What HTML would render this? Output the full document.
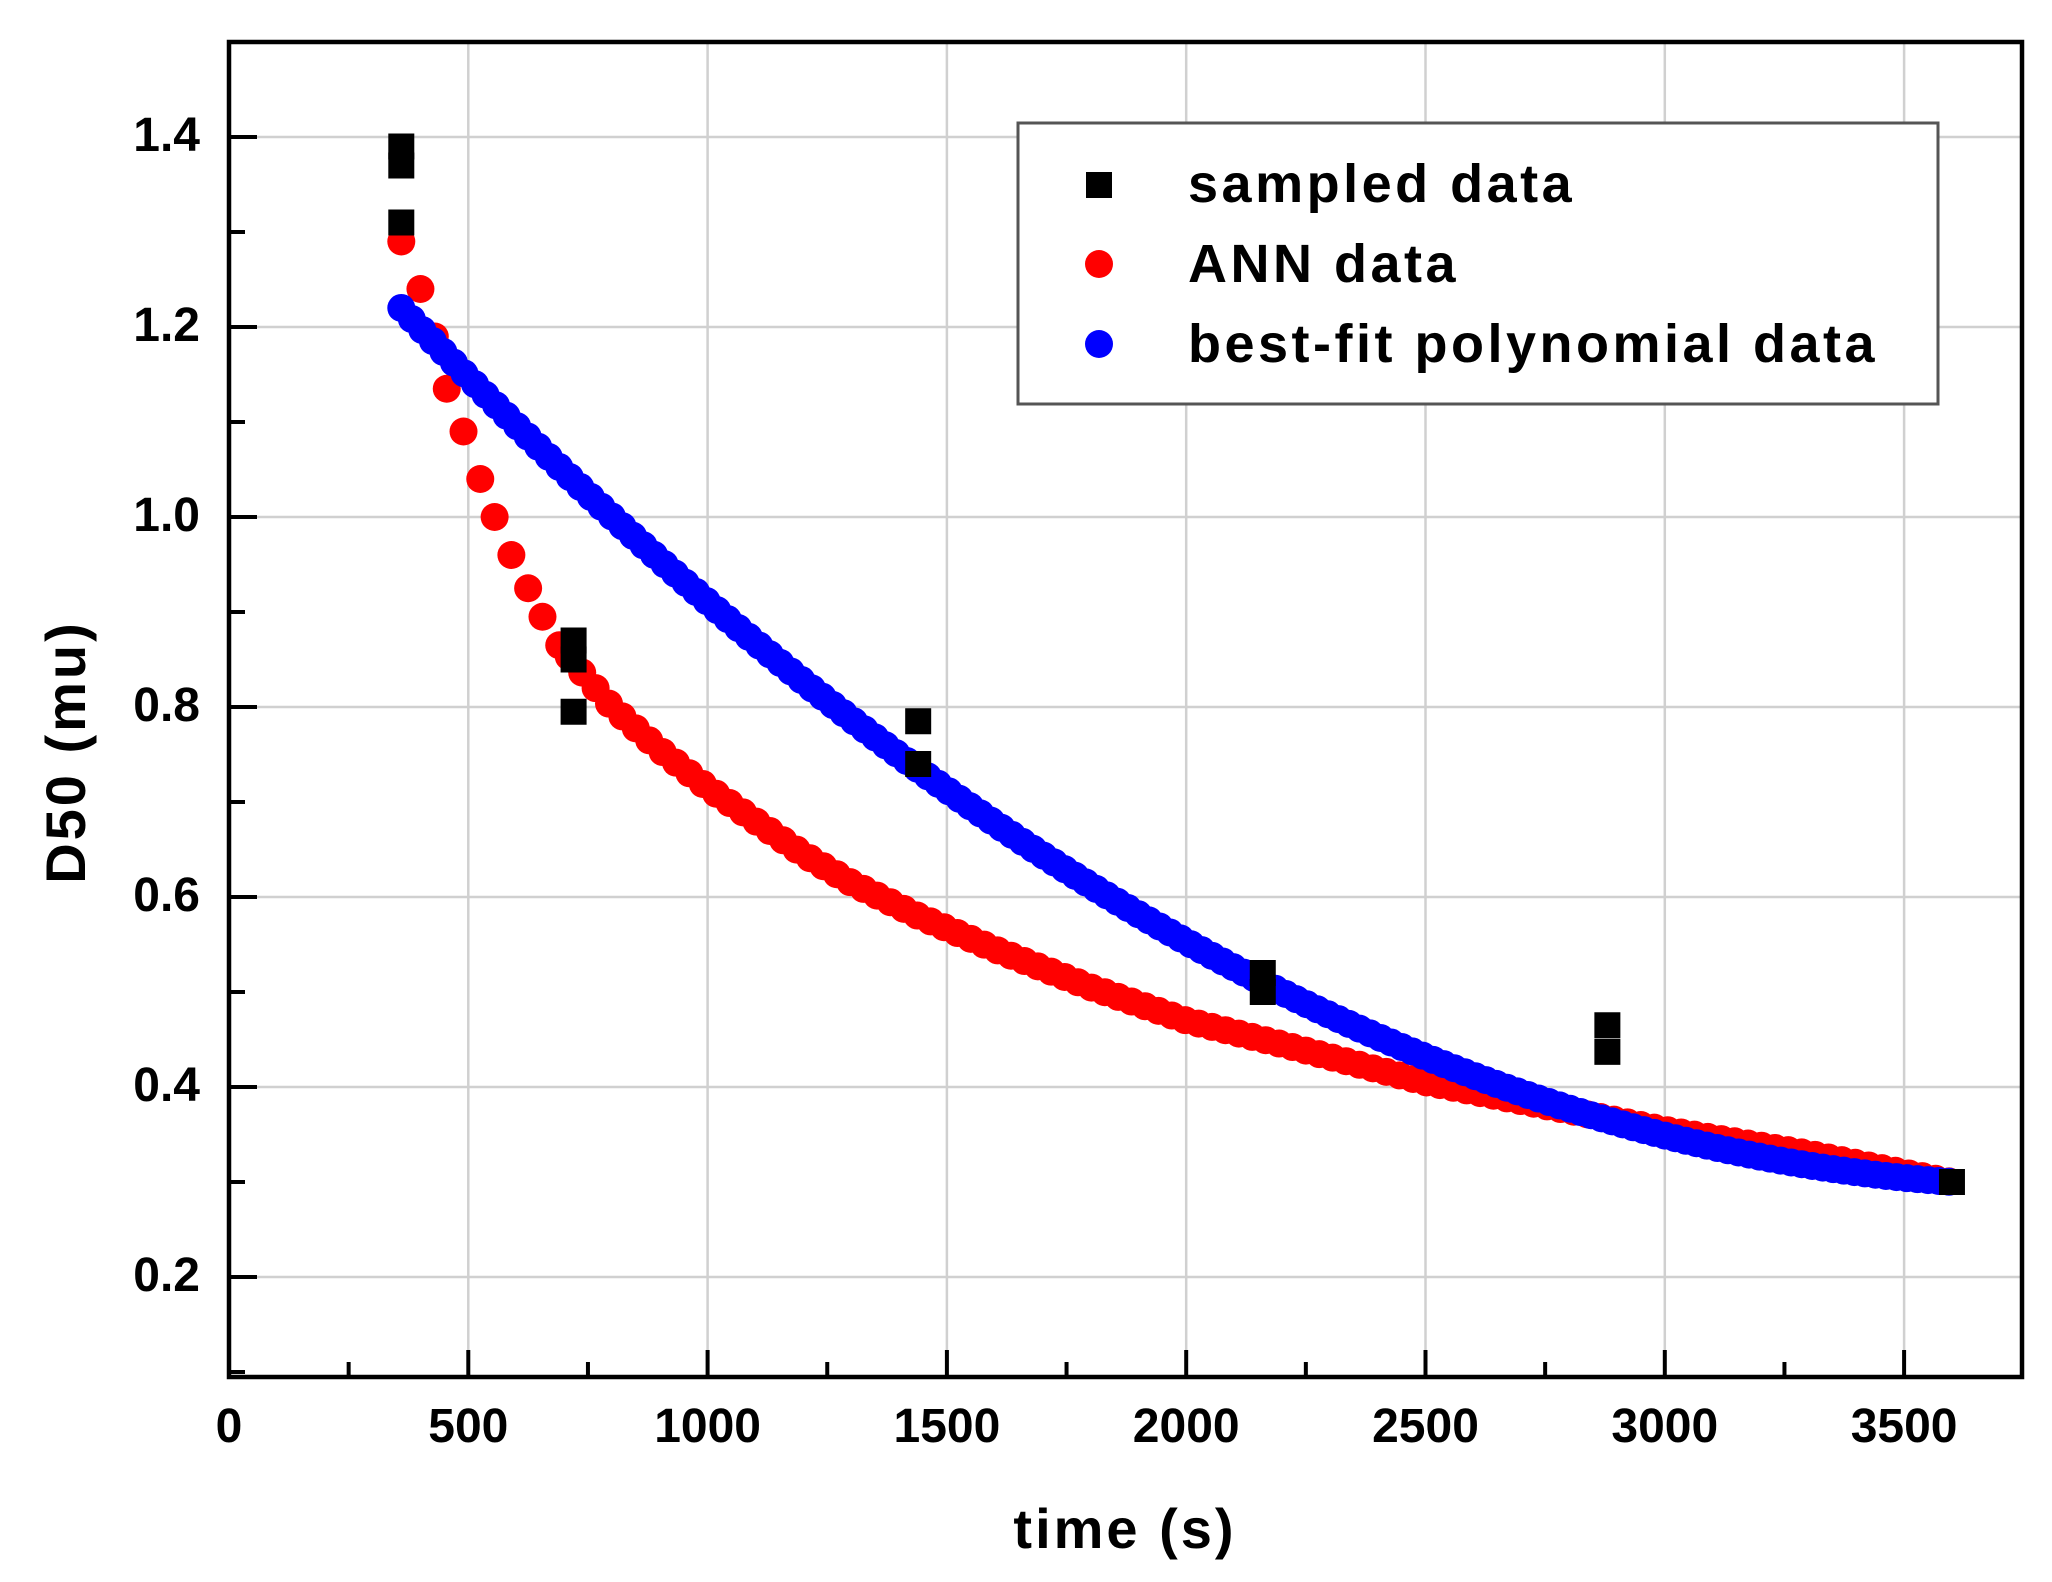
<!DOCTYPE html>
<html><head><meta charset="utf-8"><style>
html,body{margin:0;padding:0;background:#fff;}
svg{display:block;}
text{font-family:"Liberation Sans",Arial,sans-serif;font-weight:bold;fill:#000;}
</style></head><body>
<svg id="s" width="2052" height="1582" viewBox="0 0 2052 1582" xmlns="http://www.w3.org/2000/svg">
<rect width="2052" height="1582" fill="#fff"/>
<g id="grid" stroke="#d0d0d0" stroke-width="2.5"></g>
<g id="red" fill="#ff0000"></g>
<g id="blue" fill="#0000ff"></g>
<g id="sq" fill="#000"></g>
<rect x="229" y="42" width="1793" height="1335" fill="none" stroke="#000" stroke-width="4.5"/>
<g id="ticks" stroke="#000" stroke-width="4"></g>
<g id="lab" font-size="48"></g>
<rect x="1018" y="123" width="920" height="281" fill="#fff" stroke="#555" stroke-width="3"/>
<rect x="1086" y="172" width="26" height="26" fill="#000"/>
<circle cx="1099" cy="264" r="14" fill="#ff0000"/>
<circle cx="1099" cy="344" r="14" fill="#0000ff"/>
<text x="1188" y="202" font-size="54" letter-spacing="3.5">sampled data</text>
<text x="1188" y="282" font-size="54" letter-spacing="3.5">ANN data</text>
<text x="1188" y="362" font-size="54" letter-spacing="3.5">best-fit polynomial data</text>
<text x="1125" y="1548" font-size="56" text-anchor="middle" letter-spacing="3">time (s)</text>
<text transform="translate(85,752) rotate(-90)" font-size="56" text-anchor="middle" letter-spacing="3">D50 (mu)</text>
</svg>
<script>
var NS="http://www.w3.org/2000/svg";
function X(t){return 229+t*0.4786;}
function Y(v){return 137+(1.4-v)*950;}
function el(p,n,a,txt){var e=document.createElementNS(NS,n);for(var k in a)e.setAttribute(k,a[k]);if(txt!==undefined)e.textContent=txt;document.getElementById(p).appendChild(e);}
for(var t=500;t<=3500;t+=500)el("grid","line",{x1:X(t),x2:X(t),y1:42,y2:1377});
for(var v=0.2;v<=1.41;v+=0.2)el("grid","line",{x1:229,x2:2022,y1:Y(v),y2:Y(v)});
for(var t=250;t<=3500;t+=250){var L=(t%500==0)?27:15;el("ticks","line",{x1:X(t),x2:X(t),y1:1377,y2:1377-L});}
for(var t=0;t<=3500;t+=500){el("lab","text",{x:X(t),y:1442,"text-anchor":"middle"},String(t));}
for(var i=1;i<=14;i++){var v=i/10;var L=(i%2==0)?28:16;el("ticks","line",{x1:229,x2:229+L,y1:Y(v),y2:Y(v)});if(i%2==0)el("lab","text",{x:200,y:Y(v)+14,"text-anchor":"end"},v.toFixed(1));}
var tab=[[360,1.29],[400,1.24],[430,1.19],[455,1.135],[490,1.09],[525,1.04],[555,1.0],[590,0.96],[625,0.925],[655,0.895],[690,0.865],[740,0.835],[800,0.80],[900,0.755],[1000,0.715],[1100,0.68],[1200,0.645],[1300,0.615],[1440,0.58],[1600,0.545],[1800,0.505],[2000,0.47],[2200,0.445],[2500,0.405],[2800,0.375],[3000,0.355],[3300,0.33],[3600,0.30]];
function ann(t){for(var i=0;i<tab.length-1;i++){if(t<=tab[i+1][0]){var a=tab[i],b=tab[i+1];return a[1]+(b[1]-a[1])*(t-a[0])/(b[0]-a[0]);}}return 0.3;}
var early=[360,400,430,455,490,525,555,590,625,655,690];
early.forEach(function(t){el("red","circle",{cx:X(t),cy:Y(ann(t)),r:14});});
for(var t=710;t<=3600;t+=28)el("red","circle",{cx:X(t),cy:Y(ann(t)),r:14});
for(var t=360;t<=3600;t+=22){var v=1.4217-5.878e-4*t+7.673e-8*t*t;el("blue","circle",{cx:X(t),cy:Y(v),r:14});}
var sq=[[360,1.39],[360,1.37],[360,1.31],[720,0.87],[720,0.85],[720,0.795],[1440,0.785],[1440,0.74],[2160,0.52],[2160,0.50],[2880,0.465],[2880,0.437],[3600,0.30]];
sq.forEach(function(p){el("sq","rect",{x:X(p[0])-13,y:Y(p[1])-13,width:26,height:26});});
</script>
</body></html>
